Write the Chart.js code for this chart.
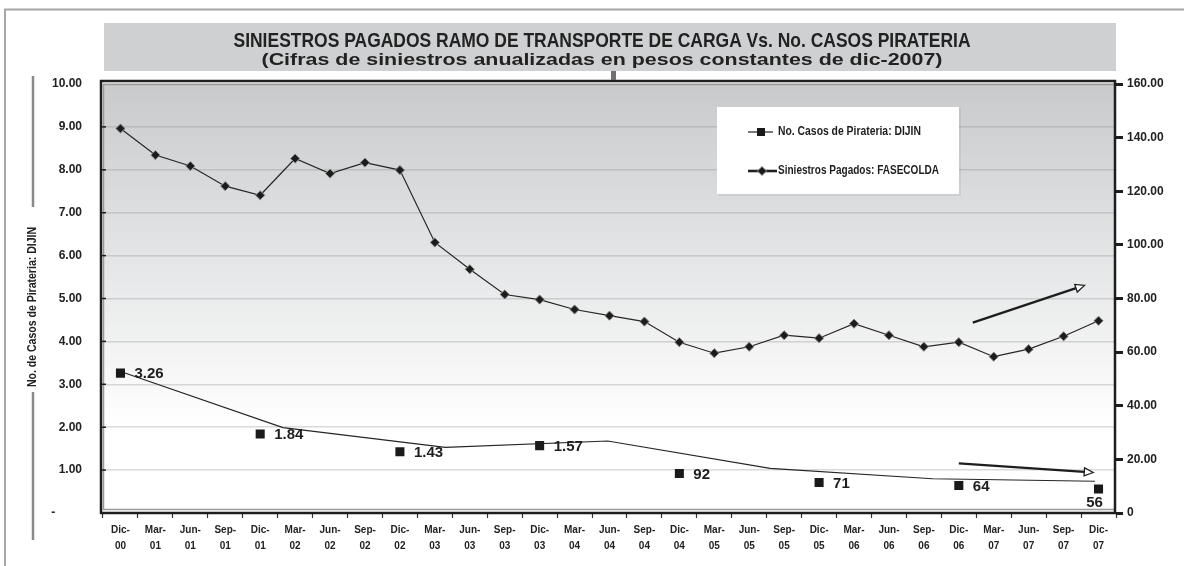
<!DOCTYPE html>
<html><head><meta charset="utf-8">
<script src="https://cdn.jsdelivr.net/npm/chart.js@4.4.0/dist/chart.umd.min.js"></script>
<style>html,body{margin:0;padding:0;background:#fff}#wrap{position:relative;width:1184px;height:566px}</style>
</head><body><div id="wrap"><canvas id="c"></canvas></div>
<script>
// ---- data ----
const categories = ['Dic-00','Mar-01','Jun-01','Sep-01','Dic-01','Mar-02','Jun-02','Sep-02','Dic-02','Mar-03','Jun-03','Sep-03','Dic-03','Mar-04','Jun-04','Sep-04','Dic-04','Mar-05','Jun-05','Sep-05','Dic-05','Mar-06','Jun-06','Sep-06','Dic-06','Mar-07','Jun-07','Sep-07','Dic-07'];
const siniestrosPagados = [143.4,133.5,129.4,121.9,118.5,132.2,126.6,130.7,127.9,100.9,90.9,81.5,79.6,75.9,73.6,71.4,63.7,59.6,62.0,66.3,65.2,70.6,66.3,62.0,63.7,58.3,61.1,65.9,71.7];
const casosCategories = ['Dic-00','Dic-01','Dic-02','Dic-03','Dic-04','Dic-05','Dic-06','Dic-07'];
const casosPirateria = [3.26,1.84,1.43,1.57,0.92,0.71,0.64,0.56];
const casosLabels = ['3.26','1.84','1.43','1.57','92','71','64','56'];
const casosLinea = [3.30,1.99,1.53,1.68,1.04,0.80,0.74];
const flechaSube = {from:[24.4,71.0], to:[27.6,84.9]};   // [category index, right-axis value]
const flechaBaja = {from:[24.0,18.5], to:[27.85,15.1]};
const titulo = 'SINIESTROS PAGADOS RAMO DE TRANSPORTE DE CARGA Vs. No. CASOS PIRATERIA';
const subtitulo = '(Cifras de siniestros anualizadas en pesos constantes de dic-2007)';
const ejeIzq = 'No. de Casos de Pirateria: DIJIN';
const leyenda = ['No. Casos de Pirateria: DIJIN','Siniestros Pagados: FASECOLDA'];

const NARROW = '"Liberation Sans Narrow","Arial Narrow","Liberation Sans",Arial,sans-serif';
const SANS = '"Liberation Sans",Arial,sans-serif';

function fitText(ctx, text, x, y, font, width, align){
  ctx.save();
  ctx.font = font;
  const w = ctx.measureText(text).width;
  const s = width / w;
  ctx.translate(x, y);
  ctx.scale(s, 1);
  ctx.textAlign = align || 'center';
  ctx.textBaseline = 'middle';
  ctx.fillText(text, 0, 0);
  ctx.restore();
}

function arrow(ctx, x1, y1, x2, y2){
  const a = Math.atan2(y2-y1, x2-x1);
  const L = 9, H = 4;
  const bx = x2 - L*Math.cos(a), by = y2 - L*Math.sin(a);
  ctx.save();
  ctx.strokeStyle = '#1e1e1e';
  ctx.lineWidth = 2.4;
  ctx.beginPath(); ctx.moveTo(x1,y1); ctx.lineTo(bx,by); ctx.stroke();
  ctx.lineWidth = 1.3;
  ctx.fillStyle = '#fff';
  ctx.beginPath();
  ctx.moveTo(x2,y2);
  ctx.lineTo(bx + H*Math.sin(a), by - H*Math.cos(a));
  ctx.lineTo(bx - H*Math.sin(a), by + H*Math.cos(a));
  ctx.closePath(); ctx.fill(); ctx.stroke();
  ctx.restore();
}

const decor = {
  id: 'decor',
  beforeDraw(chart){
    const ctx = chart.ctx, a = chart.chartArea;
    ctx.save();
    ctx.fillStyle = '#fff'; ctx.fillRect(0,0,chart.width,chart.height);
    ctx.strokeStyle = '#a6a6a6'; ctx.lineWidth = 2;
    ctx.beginPath(); ctx.moveTo(5,566); ctx.lineTo(5,9.5); ctx.lineTo(1184,9.5); ctx.stroke();
    ctx.fillStyle = '#cfd0d2'; ctx.fillRect(104,23,1012,48);
    ctx.fillStyle = '#222';
    fitText(ctx, titulo, 602, 41, 'bold 21px '+NARROW, 737);
    fitText(ctx, subtitulo, 602, 60, 'bold 17px '+SANS, 681);
    const g = ctx.createLinearGradient(0,a.top,0,a.bottom);
    g.addColorStop(0,'#c9cacc'); g.addColorStop(0.45,'#e7e8e9'); g.addColorStop(0.8,'#ffffff'); g.addColorStop(1,'#ffffff');
    ctx.fillStyle = g; ctx.fillRect(a.left,a.top,a.right-a.left,a.bottom-a.top);
    ctx.restore();
  },
  afterDraw(chart){
    const ctx = chart.ctx, a = chart.chartArea;
    const xs = chart.scales.x, y2 = chart.scales.y2, y = chart.scales.y;
    ctx.save();
    ctx.strokeStyle = '#9a9a9a'; ctx.lineWidth = 1.5;
    ctx.beginPath(); ctx.moveTo(a.left+0.5,a.bottom-3); ctx.lineTo(a.left+0.5,a.top+0.5); ctx.lineTo(a.right-2,a.top+0.5); ctx.stroke();
    ctx.beginPath(); ctx.moveTo(a.left,a.bottom-3.5); ctx.lineTo(a.right-2,a.bottom-3.5); ctx.stroke();
    ctx.strokeStyle = '#1e1e1e'; ctx.lineWidth = 2.5;
    ctx.strokeRect(a.left-2, a.top-3, a.right-a.left+1, a.bottom-a.top+3);
    ctx.lineWidth = 1.5;
    for (let v=1; v<10; v++){ const py = y.getPixelForValue(v); ctx.beginPath(); ctx.moveTo(a.left-2,py); ctx.lineTo(a.left+3,py); ctx.stroke(); }
    ctx.fillStyle = '#707070'; ctx.fillRect(611,71,5,9);
    ctx.strokeStyle = '#8a8a8a'; ctx.lineWidth = 2.5;
    ctx.beginPath(); ctx.moveTo(33,76); ctx.lineTo(33,207); ctx.moveTo(33,392); ctx.lineTo(33,540); ctx.stroke();
    ctx.fillStyle = '#222';
    ctx.save(); ctx.translate(33,307); ctx.rotate(-Math.PI/2);
    fitText(ctx, ejeIzq, 0, 0, 'bold 12px '+NARROW, 160);
    ctx.restore();
    // legend box
    ctx.fillStyle = 'rgba(0,0,0,0.06)'; ctx.fillRect(718,108,243,88);
    ctx.fillStyle = '#fff'; ctx.fillRect(717,107,242,87);
    ctx.strokeStyle = '#222'; ctx.lineWidth = 1.2;
    ctx.beginPath(); ctx.moveTo(748,132); ctx.lineTo(773,132); ctx.stroke();
    ctx.fillStyle = '#1a1a1a'; ctx.fillRect(757,128,8,8);
    ctx.lineWidth = 2.6;
    ctx.beginPath(); ctx.moveTo(748,171); ctx.lineTo(777,171); ctx.stroke();
    ctx.fillStyle = '#1a1a1a'; ctx.strokeStyle = '#8a8a8a'; ctx.lineWidth = 1;
    ctx.beginPath(); ctx.moveTo(757.5,171); ctx.lineTo(762,166.5); ctx.lineTo(766.5,171); ctx.lineTo(762,175.5); ctx.closePath(); ctx.fill(); ctx.stroke();
    ctx.fillStyle = '#1e1e1e';
    fitText(ctx, leyenda[0], 778, 132, 'bold 12px '+NARROW, 143, 'left');
    fitText(ctx, leyenda[1], 778, 171, 'bold 12px '+NARROW, 161, 'left');
    [flechaSube, flechaBaja].forEach(f => arrow(ctx,
      xs.getPixelForValue(f.from[0]), y2.getPixelForValue(f.from[1]),
      xs.getPixelForValue(f.to[0]), y2.getPixelForValue(f.to[1])));
    // data labels
    const meta = chart.getDatasetMeta(1);
    ctx.fillStyle = '#1e1e1e';
    ctx.font = 'bold 15px '+SANS;
    ctx.textBaseline = 'middle';
    casosCategories.forEach((c,i) => {
      const pt = meta.data[categories.indexOf(c)];
      if (i === casosCategories.length-1){ ctx.textAlign='center'; ctx.fillText(casosLabels[i], pt.x-4, pt.y+14); }
      else { ctx.textAlign='left'; ctx.fillText(casosLabels[i], pt.x+14, pt.y+1); }
    });
    ctx.restore();
  }
};

new Chart(document.getElementById('c'), {
  type: 'line',
  data: {
    labels: categories.map(c => [c.split('-')[0]+'-', c.split('-')[1]]),
    datasets: [
      { label: leyenda[1], data: siniestrosPagados, yAxisID: 'y2', xAxisID: 'x',
        borderColor: '#262626', borderWidth: 1.2, pointStyle: 'rectRot', pointRadius: 4.6,
        pointBackgroundColor: '#1c1c1c', pointBorderColor: '#8a8a8a', pointBorderWidth: 1, tension: 0 },
      { label: leyenda[0], data: categories.map(c => { const k = casosCategories.indexOf(c); return k < 0 ? null : casosPirateria[k]; }),
        yAxisID: 'y', xAxisID: 'x', showLine: false, pointStyle: 'rect', pointRadius: 6.4,
        pointBackgroundColor: '#1a1a1a', pointBorderColor: '#1a1a1a', pointBorderWidth: 0 },
      { label: 'linea', data: casosLinea.map((v,i) => ({x: i, y: v})), yAxisID: 'y', xAxisID: 'xt',
        borderColor: '#262626', borderWidth: 1.1, pointRadius: 0, tension: 0 }
    ]
  },
  options: {
    responsive: true, maintainAspectRatio: false, animation: false,
    layout: { padding: { top: 84, left: 0, right: 0, bottom: 0 } },
    plugins: { legend: { display: false }, tooltip: { enabled: false } },
    scales: {
      x: { type: 'category', offset: true,
        grid: { drawOnChartArea: false, offset: true, drawTicks: true, tickLength: 5, tickColor: '#333', tickWidth: 1.2 },
        border: { display: false },
        ticks: { autoSkip: false, maxRotation: 0, minRotation: 0, padding: 4, color: '#222',
          font: { family: SANS, size: 10, weight: 'bold', lineHeight: 1.6 } },
        afterFit: s => { s.height = 53; } },
      xt: { type: 'linear', display: false, min: -0.108, max: 6.13 },
      y: { position: 'left', min: 0, max: 10,
        grid: { color: 'rgba(140,140,140,0.32)', lineWidth: 1.5, drawTicks: false },
        border: { display: false },
        ticks: { stepSize: 1, padding: 21, color: '#222', font: { family: SANS, size: 12, weight: 'bold' },
          callback: v => v === 0 ? '-        ' : v.toFixed(2) },
        afterFit: s => { s.width = 103; } },
      y2: { position: 'right', min: 0, max: 160,
        grid: { drawOnChartArea: false, drawTicks: true, tickLength: 7, tickWidth: 3, tickColor: '#1e1e1e' },
        border: { display: false },
        ticks: { stepSize: 20, padding: 4, color: '#222', font: { family: SANS, size: 12, weight: 'bold' },
          callback: v => v === 0 ? '0' : v.toFixed(2) },
        afterFit: s => { s.width = 68; } }
    }
  },
  plugins: [decor]
});
</script></body></html>
